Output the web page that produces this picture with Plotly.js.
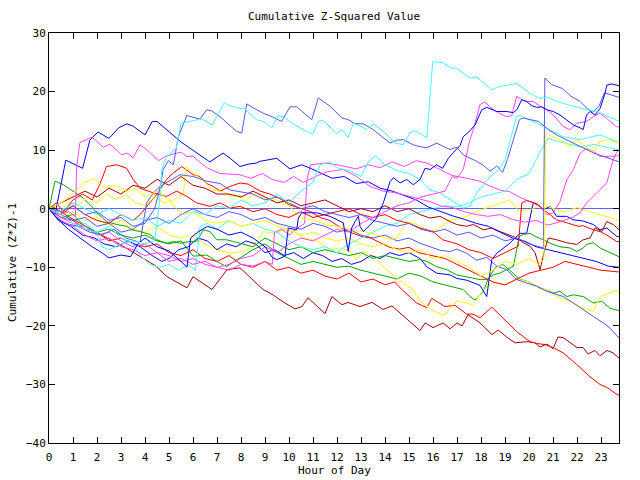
<!DOCTYPE html>
<html><head><meta charset="utf-8">
<script src="https://cdn.plot.ly/plotly-3.0.1.min.js"></script>
<style>html,body{margin:0;padding:0;background:#fff}#chart{width:640px;height:480px}</style>
</head><body><div id="chart"></div>
<script>
// ---- data: [hour, cumulative value] ----
const hourTicks = [0,1,2,3,4,5,6,7,8,9,10,11,12,13,14,15,16,17,18,19,20,21,22,23];

const cyan1 = [[0,0],[0.5,-1],[1,-2.5],[1.5,-3.5],[2,-4],[2.2,-6.5],[2.5,-7],[3,-6],[3.5,-5.5],[4,-6],[4.4,-5.5],[4.5,-2],[4.6,1],[4.7,6.7],[4.9,8.9],[5.3,10.3],[5.5,14.6],[6.2,15.2],[6.4,15.3],[6.8,14.3],[7.3,18.1],[7.6,17.5],[8.0,17.1],[8.1,17.2],[8.65,15.2],[8.93,14.9],[9.28,13.8],[9.55,15.9],[9.76,15.7],[10.04,14.9],[10.46,13.8],[10.88,12.9],[11.01,12.9],[11.22,14.9],[11.43,15.1],[11.99,12.8],[12.2,13.5],[12.47,12.2],[12.68,14.6],[13.03,14.0],[13.24,13.5],[13.51,14.5],[13.93,13.2],[14.42,11.2],[14.76,10.9],[15.04,13.0],[15.25,13.3],[15.74,12.1],[15.99,25.1],[16.42,24.9],[16.78,24.0],[16.99,24],[17.54,22.3],[17.82,22.5],[18.45,20.3],[18.71,20.8],[19.49,21.4],[20.04,19.7],[20.46,18.8],[20.74,19.1],[21.15,18.3],[21.57,17.8],[22.4,16.9],[22.82,16.6],[23.24,15.8],[23.65,15.1],[23.75,15]];
const cyan2 = [[0,0],[0.5,-0.5],[1,1],[1.5,0],[2,-1],[2.5,0],[3,-1],[3.5,-2],[4,-1.5],[4.5,-3],[5,-2],[5.5,-2.5],[6,-0.5],[6.5,-1],[7,0.5],[7.5,0],[8,1.5],[8.5,0.5],[9,1],[9.5,2.5],[10,1],[10.5,3],[11,4.5],[11.3,7.5],[11.7,8],[12,7],[12.5,6.5],[13,5.5],[13.3,8],[13.6,9],[14,7.5],[14.5,6.5],[15,6],[15.46,5],[15.67,4.1],[15.88,3.2],[16.29,2.7],[16.64,1.8],[16.99,0.9],[17.26,0.1],[17.54,0.4],[17.82,2.7],[18.1,4.1],[18.38,5.5],[18.66,6.4],[18.87,7.5],[19,8.4],[19.49,15.8],[19.63,15.9],[20.46,14.3],[20.74,13.8],[21.43,12.3],[22.13,11.8],[22.96,12.6],[23.65,11.5],[23.75,11.5]];
const cyan3 = [[0,0],[0.5,-2],[1,-3],[1.5,-2.5],[2,-4],[2.5,-3],[3,-5],[3.5,-6],[3.8,-8],[4.2,-9.5],[4.6,-10],[5,-9.5],[5.4,-10.5],[5.8,-9.5],[6.1,-10.5],[6.3,-3],[6.6,-2.5],[7,-3.5],[7.5,-2],[8,-3],[8.5,-2.5],[9,-3.5],[9.5,-4],[10,-5.5],[10.5,-6.5],[11,-7],[11.5,-6.5],[12,-7.5],[12.5,-6],[13,-5],[13.5,-4],[14,-3],[14.5,-2.5],[15,-1],[15.5,-0.5],[16,0],[16.5,0.5],[17,0.3],[17.5,1],[18,2],[18.5,2.5],[19,3],[19.5,5],[20,6],[20.5,10],[20.8,12],[21.2,11.5],[21.7,11],[22.2,10.5],[22.7,11],[23.2,10.5],[23.75,10]];
const slate1 = [[0,0],[0.5,-0.5],[1,0.5],[1.5,-1],[2,-0.5],[2.5,-2],[3,-1.5],[3.5,-3],[4,-2.5],[4.4,0],[4.6,3],[4.76,6.7],[4.97,8.2],[5.18,7.5],[5.39,12.3],[5.74,15.9],[6.29,15.3],[6.57,16.9],[6.78,16.7],[7.13,15.7],[7.54,14.2],[7.82,13.2],[8.03,12.9],[8.24,17.9],[8.51,17.2],[8.93,16.3],[9.35,15.6],[9.69,14.9],[10.04,17.4],[10.32,17.4],[10.95,15.2],[11.22,18.9],[11.71,17.5],[12.2,15.5],[12.47,15.2],[12.75,14.5],[13.1,14.5],[13.51,13.5],[14.21,11.2],[14.49,11.7],[14.76,11.8],[15.18,10.9],[15.46,10.6],[15.74,10.4],[16.15,11.2],[16.57,10.4],[16.71,10.1],[16.99,10.5],[17.26,9.2],[17.82,8.1],[18.1,7.4],[18.38,6.4],[18.66,7.3],[18.9,6.2],[19.1,8.4],[19.6,15.2],[19.75,15.5],[20.4,14.9],[20.8,13.5],[21.2,12.5],[21.7,11.5],[22.2,10.5],[22.7,9.5],[23.2,8.8],[23.75,8]];
const slate2 = [[0,0],[0.3,-1.5],[0.7,-2.5],[1.2,-3],[1.7,-4],[2.2,-4.5],[2.7,-3.5],[3.2,-5],[3.6,-5.5],[3.79,-5.8],[4.07,1],[4.35,2.7],[4.63,3.8],[5.46,5.8],[6.01,5.5],[6.57,4.7],[7.13,4.3],[7.54,3.2],[7.96,2.9],[8.5,2.5],[9,1.5],[9.5,2],[10,1],[10.5,0],[11,0.5],[11.5,-0.5],[12,-1],[12.5,-1.5],[13,-1],[13.5,-2],[14,-2.5],[14.5,-3],[15,-2.5],[15.5,-3.5],[16,-4],[16.5,-3.5],[17,-4.5],[17.5,-4],[18,-5],[18.5,-4.5],[19,-5.5],[19.5,-5],[20,-6],[20.5,-6.5],[20.6,-6.7],[20.66,22.3],[20.94,21.2],[21.4,20.5],[21.75,19.2],[22.1,18.4],[22.45,17],[22.65,16.5],[22.92,17.5],[23.14,19.8],[23.55,19.2],[23.75,19]];
const slate3 = [[0,0],[0.5,-1],[1,-2],[1.5,-1.5],[2,-3],[2.5,-2.5],[3,-4],[3.5,-3.5],[4,-2],[4.5,-1.5],[5,-2.5],[5.5,-1],[6,0],[6.5,-1],[7,-1.5],[7.5,-0.5],[8,-1],[8.5,-2],[9,-1.5],[9.5,-2.5],[10,-3],[10.5,-3.5],[11,-2.5],[11.5,-3],[12,-4],[12.5,-3.5],[13,-4.5],[13.5,-5],[14,-4.5],[14.5,-5.5],[15,-5],[15.46,-5.9],[15.88,-6.5],[16.29,-7.1],[16.71,-7.3],[16.99,-6.9],[17.4,-7.6],[17.82,-8.8],[18.24,-8.3],[18.66,-9.8],[19.07,-10.4],[19.49,-12.1],[19.9,-12.7],[20.32,-13.2],[20.74,-14.1],[21.01,-14.4],[21.43,-15],[21.85,-16.1],[22.26,-17.3],[22.68,-18.4],[23.1,-19.5],[23.38,-20.4],[23.75,-22.1]];
const blue1 = [[0,0],[0.25,-1],[0.7,8.3],[1.2,7.2],[1.4,6.9],[1.7,11.7],[2.04,13.1],[2.5,12],[2.9,13.8],[3.25,14.5],[3.5,14.1],[4,12.6],[4.3,14.9],[4.5,14.9],[5.5,11.4],[6.7,8],[7.25,9.5],[7.55,8.6],[7.96,7.2],[8.3,7.6],[8.65,7.8],[8.79,8.1],[9.49,8.6],[10.04,6.8],[10.53,7.5],[10.95,6.8],[11.4,6],[11.8,5.2],[12.3,5.5],[12.8,4.3],[13.3,4.6],[13.8,3.5],[14.3,3],[14.8,2.2],[15.3,1.5],[15.8,0.3],[16.3,-0.5],[16.8,-1.2],[17.3,-1.8],[17.8,-2.5],[18.3,-3],[18.8,-4],[19.3,-5],[19.8,-5.5],[20.3,-6.5],[20.8,-7],[21.3,-7.5],[21.8,-8],[22.3,-8.5],[22.8,-9],[23.3,-9.8],[23.75,-10]];
const blue2 = [[0,0],[0.3,-1.5],[0.8,-3.5],[1.3,-5],[1.8,-6.5],[2.2,-7.5],[2.5,-8.4],[3,-7.9],[3.4,-8.2],[3.7,-6],[4,-5],[4.5,-6.5],[5,-7.2],[5.5,-9],[5.75,-10],[5.9,-5],[6.2,-4],[6.6,-3],[7,-3.5],[7.5,-4.5],[8,-4],[8.5,-5],[9,-6.5],[9.3,-8.3],[9.49,-8.7],[9.83,-8.1],[9.97,-3.3],[10.32,-3.6],[10.39,-1.6],[10.53,-0.7],[10.74,-0.7],[11.15,-0.7],[11.71,-1.3],[12.26,-2.4],[12.47,-7.3],[12.61,-3.3],[12.75,-2.2],[12.89,-1.3],[12.96,-3],[13.1,-3.9],[13.38,-2.8],[13.65,-1.6],[13.93,1],[14.21,4.6],[14.35,5.3],[14.63,4.4],[14.9,5],[15.18,4.1],[15.46,5],[15.67,6.9],[15.88,6.7],[16.15,7.5],[16.4,6.9],[16.64,8.6],[16.85,9.6],[17.13,10.8],[17.26,12.3],[17.54,13.3],[17.75,14.3],[17.89,15.7],[18.03,16.9],[18.24,17.3],[18.45,16.9],[18.66,16.6],[19.07,16.6],[19.35,16.4],[19.49,16.9],[19.7,18.6],[19.9,18.3],[20.11,17.6],[20.32,17.3],[20.53,17.4],[20.74,16.9],[21.01,16.6],[21.29,16.0],[21.57,15.2],[21.85,14.3],[22.13,13.8],[22.26,13.5],[22.4,16.0],[22.54,16.6],[22.75,16.0],[22.96,17.1],[23.17,19.7],[23.24,21.1],[23.45,21.3],[23.65,21.1],[23.75,21]];
const blue3 = [[0,0],[0.4,-2],[0.9,-3],[1.4,-4.5],[1.9,-5],[2.3,-6],[2.8,-6.5],[3.3,-5.5],[3.8,-6.5],[4.3,-8],[4.7,-9],[5,-8.5],[5.4,-7],[5.8,-6.5],[6.2,-5],[6.6,-5.5],[7,-7],[7.4,-6],[7.8,-6.5],[8.2,-5.5],[8.6,-6],[9,-7.5],[9.4,-7],[9.8,-8],[10.2,-7.5],[10.6,-8.5],[11,-7.5],[11.4,-8],[11.8,-9],[12.2,-8.5],[12.6,-9.5],[13,-9],[13.4,-8],[13.8,-8.5],[14.2,-7.5],[14.6,-8],[15,-7.5],[15.46,-8.5],[15.74,-9.9],[16.15,-11],[16.71,-11.3],[16.99,-11.9],[17.4,-12.2],[17.96,-13.1],[18.24,-15],[18.45,-8.7],[18.66,-7.6],[19.2,-5.9],[19.42,-5],[19.63,-4.2],[19.9,-4.2],[20.18,1],[20.39,0.7],[20.6,-0.2],[20.88,0.4],[21.15,-1.3],[21.57,-1.3],[21.85,-1.9],[22.26,-2.1],[22.68,-2.7],[22.96,-3.6],[23.24,-3.3],[23.65,-4.7],[23.75,-4.8]];
const magenta1 = [[0,0],[0.4,-1],[0.8,-0.5],[1.1,-1.2],[1.15,7.2],[1.29,11.3],[1.78,12.2],[1.92,11.8],[2.26,10.5],[2.54,11.0],[3.03,9.2],[3.26,9.5],[3.51,8.7],[3.79,10.9],[4.07,10.1],[4.56,8.2],[4.83,8.9],[5.32,9.5],[5.53,9.6],[5.74,8.9],[6.01,9.0],[6.15,8.4],[6.57,7.0],[7.13,6.0],[7.96,5.8],[8.4,5.2],[8.9,6],[9.3,5],[9.8,4.5],[10.2,5.5],[10.6,4.5],[11.1,5.5],[11.6,6.3],[12.25,6.7],[12.82,5.5],[13.1,4.7],[13.38,3.8],[13.93,3],[14.49,2.7],[15.04,2.1],[15.6,1.5],[15.88,1.2],[16.3,0.5],[16.8,0.2],[17.3,-0.5],[17.8,-1],[18.3,-1.3],[18.8,-1],[19.3,-1.8],[19.8,-2.3],[20.3,-2],[20.8,-2.8],[21.3,-2.2],[21.8,-1.5],[22.13,-0.7],[22.4,1],[22.82,2.7],[23.24,4.4],[23.51,8.4],[23.65,9.6],[23.75,10]];
const magenta2 = [[0,0],[0.5,-1.5],[1,-2.5],[1.5,-3],[2,-4.5],[2.5,-4],[3,-5.5],[3.5,-6.5],[4,-6],[4.5,-7.5],[5,-8],[5.5,-9],[6,-8.5],[6.5,-9.5],[7,-10],[7.5,-10.5],[8,-9.5],[8.5,-9.8],[9,-9],[9.3,-9.5],[9.4,-4],[9.7,-3.5],[10,-4.5],[10.3,-3.5],[10.65,-2.5],[10.75,5],[10.9,7.5],[11.5,7.8],[12,7.5],[12.5,7],[12.8,6.8],[13.3,7.5],[13.8,7],[14.3,8],[14.8,7.2],[15.3,8.2],[15.74,7.8],[16.29,6.7],[16.78,5.7],[17.4,5.2],[17.96,4.7],[18.24,4.1],[18.79,3.2],[19.2,2.9],[19.6,2],[20.04,1.2],[20.46,0.4],[20.74,-1],[21.01,-0.7],[21.29,1.2],[21.57,4.9],[21.85,6.7],[22.13,9.5],[22.4,10.3],[22.68,9.8],[22.96,8.9],[23.65,9],[23.75,9.2]];
const magenta3 = [[0,0],[0.5,-2],[1,-3],[1.5,-4.5],[2,-5.5],[2.5,-5],[3,-6.5],[3.5,-7],[4,-8],[4.5,-7.5],[5,-9],[5.5,-8.5],[6,-9.5],[6.5,-9],[7,-10],[7.5,-9.5],[8,-8.5],[8.5,-8],[9,-6.5],[9.5,-7.5],[10,-6],[10.5,-5],[11,-5.5],[11.5,-4.5],[12,-3.5],[12.5,-4],[13,-2.5],[13.5,-1.5],[14,-0.5],[14.5,0.5],[15,1],[15.5,2],[16,2.5],[16.5,3],[16.8,5.5],[17,5.2],[17.26,6.7],[17.54,11.8],[17.68,13.5],[17.96,17.8],[18.17,18.2],[18.45,17.1],[18.72,16.4],[19.07,15.7],[19.28,15.9],[19.49,19.2],[19.7,18.6],[19.9,18.3],[20.18,18.3],[20.46,17.5],[20.74,16.9],[21.01,16.0],[21.43,14.0],[21.71,13.5],[21.99,14.6],[22.4,14.9],[22.68,15.7],[22.96,16.3],[23.24,15.4],[23.65,14.0],[23.75,14]];
const yellow1 = [[0,0],[0.5,1],[1,2.5],[1.5,4.5],[1.9,5.2],[2.3,3.5],[2.8,4],[3.2,3],[3.6,3.5],[4,2],[4.5,3],[5,1.5],[5.3,0],[5.6,-1],[6,-0.5],[6.5,-2],[7,-2.5],[7.5,-2],[8,-3],[8.5,-2.5],[9,-2],[9.5,-3],[10,-3.5],[10.5,-4.5],[11,-4],[11.5,-5],[12,-5.5],[12.5,-5],[13,-6],[13.5,-6.5],[14,-6],[14.5,-7],[15,-7.5],[15.5,-7],[16,-8.5],[16.5,-8],[17,-9],[17.5,-10],[18,-11.5],[18.5,-10.5],[19,-9],[19.5,-9.5],[20,-8.5],[20.4,-9.5],[20.62,-8.7],[20.71,12.8],[21.01,12.3],[21.43,11.5],[21.71,10.6],[21.99,11.8],[22.33,10.6],[22.68,9.7],[22.96,11.5],[23.38,11.8],[23.65,11.2],[23.75,11]];
const yellow2 = [[0,0],[0.4,-1],[0.8,1],[1.2,0.5],[1.6,2],[2,1],[2.4,2.5],[2.8,1.5],[3.2,2.5],[3.6,1],[4,0.5],[4.4,2],[4.8,1],[5.2,1.5],[5.6,2.5],[5.7,7.2],[5.74,7],[6.0,6.1],[6.4,4.9],[6.8,3.2],[7.25,2.9],[7.67,2],[7.96,2.4],[8.1,1.2],[8.65,2.7],[9.07,1.5],[9.49,1.5],[10.04,0.4],[10.46,-1.6],[11.01,-1.9],[11.57,-2.8],[11.99,-3],[12.54,-3.6],[13.1,-3.9],[13.65,-4.4],[14.21,-5.3],[14.49,-5],[14.9,-2.2],[15.32,-2.7],[15.88,-3.9],[16.2,-3.5],[16.7,-2],[17.3,-1.5],[17.8,-0.5],[18.5,0.5],[19.2,1.5],[19.6,-0.5],[20.2,0],[20.5,1],[21,0],[21.5,-0.5],[22,0.2],[22.5,-0.5],[23,-1],[23.4,-1.5],[23.75,-2]];
const yellow3 = [[0,0],[0.5,-1],[1,-0.5],[1.5,-2],[2,-1.5],[2.5,-3],[3,-2],[3.5,-3.5],[4,-4],[4.5,-3],[5,-4.5],[5.5,-5],[6,-4.5],[6.5,-6],[7,-7],[7.54,-7.6],[8.1,-7.3],[8.51,-6.4],[8.93,-3.9],[9.35,-4.2],[9.76,-3.6],[10.18,-3.9],[10.6,-5],[11.01,-5.3],[11.43,-6.1],[11.71,-7],[12.12,-6.7],[12.54,-7.3],[12.82,-8.7],[13.1,-7.3],[13.51,-8.1],[13.93,-9.9],[14.35,-11.3],[14.76,-12.7],[15.18,-13.8],[15.46,-15.8],[15.88,-17.0],[16.43,-18.3],[16.85,-16.4],[16.99,-15.8],[17.68,-16.4],[17.89,-15.0],[18.1,-13.9],[18.5,-12.5],[19,-13],[19.5,-12],[20,-12.5],[20.4,-13.5],[20.74,-13.9],[21.15,-15],[21.85,-16.1],[22.26,-17],[22.68,-17.5],[22.96,-15],[23.38,-14.4],[23.65,-13.9],[23.75,-14.4]];
const red1 = [[0,0],[0.5,-1.5],[1,-2],[1.5,-3.5],[2,-4],[2.5,-5.5],[3,-5],[3.5,-6],[4,-6.5],[4.5,-6],[5,-7.5],[5.5,-8],[6,-7],[6.5,-8.5],[7,-9],[7.5,-8],[8,-9.5],[8.5,-10],[9,-9],[9.5,-10.5],[10,-10],[10.5,-11],[11,-10.5],[11.5,-11.5],[12,-12],[12.5,-11],[13,-12.5],[13.5,-12],[14,-13],[14.4,-12.5],[14.7,-13.8],[15.32,-16.1],[15.74,-16.9],[15.95,-15.3],[16.5,-16.7],[16.92,-16.5],[17.4,-18],[17.67,-18],[17.96,-18.6],[18.45,-16.8],[19.49,-21],[20.04,-22.7],[20.32,-23],[20.67,-23.2],[21,-23.7],[21.42,-24.6],[21.99,-26.6],[22.54,-28.7],[22.96,-30],[23.24,-30.5],[23.7,-31.8],[23.75,-31.8]];
const red2 = [[0,0],[0.3,1],[0.6,-0.5],[1,1.5],[1.4,2.5],[1.8,1.5],[2.1,4],[2.4,7.2],[2.82,7.5],[3.24,6.9],[3.51,5],[3.79,3.5],[4.35,2.7],[4.9,2.1],[5.32,3],[5.74,2.1],[6.15,1],[6.71,0.4],[7.13,1],[7.54,0.1],[7.96,0.4],[8.5,-0.5],[9,0],[9.5,-1],[10,-1.5],[10.5,-0.5],[11,-1.5],[11.5,-1],[12,-0.5],[12.5,0],[13,-1],[13.5,-1.5],[14,-1],[14.5,-2],[15,-2.5],[15.46,-3.3],[16,-3.9],[16.4,-5.3],[17,-6],[17.5,-7],[18,-7.5],[18.5,-8.5],[19,-7.5],[19.55,-6.4],[19.7,1],[19.9,1.4],[20.25,1],[20.53,0.1],[20.74,-0.7],[21.15,-1.9],[21.57,-2.4],[21.85,-2.7],[22.05,-3],[22.26,-2.9],[22.68,-3.6],[22.96,-3.9],[23.24,-4.5],[23.65,-5.6],[23.75,-5.6]];
const red3 = [[0,0],[0.5,-1],[1,0.5],[1.5,-1],[2,-2],[2.5,-2.5],[3,-1],[3.5,-2],[3.8,-1],[4.2,1],[4.5,2.5],[4.9,5],[5.18,6.1],[5.53,7.2],[5.74,6.6],[6.01,5.8],[6.29,5.5],[6.57,4.3],[6.85,3.8],[7.13,3],[7.54,3.8],[7.96,4.4],[8.3,4.2],[8.8,3],[9.2,2.5],[9.6,1.8],[10,0.7],[10.5,0.1],[10.9,-0.5],[11.3,-1.5],[11.7,-2],[12.1,-3.1],[12.6,-4.1],[13,-4.7],[13.4,-5],[13.8,-5.8],[14.2,-6.6],[14.6,-6.9],[15,-6.6],[15.4,-7.5],[15.9,-8],[16.5,-8.5],[17,-9.5],[17.5,-10.5],[18,-11.5],[18.5,-12.5],[19,-13],[19.5,-12],[20,-11],[20.5,-10.5],[21,-10],[21.5,-9],[22,-9.5],[22.5,-10],[23,-10.5],[23.75,-10.8]];
const darkred1 = [[0,0],[0.17,0.3],[0.88,-1.5],[2.13,-4.4],[2.96,-6.1],[3.79,-8.2],[4.42,-9.7],[4.92,-11.6],[5.75,-13.5],[6,-11.6],[6.79,-13.8],[7.42,-10.4],[7.96,-10.1],[8.92,-13.8],[9.33,-14.7],[9.75,-15.9],[10.25,-17.1],[10.54,-16.7],[10.79,-15.2],[11.5,-17.9],[11.79,-15],[12.21,-16.4],[12.46,-16],[12.96,-16.7],[13.46,-16],[13.92,-17.2],[14.29,-16.6],[15.04,-19.3],[15.46,-20.8],[15.67,-19.5],[16,-20.3],[16.42,-19.5],[16.71,-20.5],[17,-19.5],[17.21,-20],[17.46,-18.1],[17.96,-19.5],[18.46,-21.5],[18.71,-20.7],[19.13,-22.1],[19.42,-22.9],[19.92,-22.7],[20.25,-22.9],[20.46,-23.6],[20.75,-23.1],[21,-23.9],[21.21,-21.9],[21.42,-22],[22,-23.7],[22.25,-23.7],[22.46,-24.8],[22.75,-24.2],[22.96,-25.1],[23.25,-24.2],[23.5,-24.6],[23.75,-25.5]];
const darkred2 = [[0,0],[0.5,1],[1,2],[1.5,3],[2,2],[2.5,3.5],[3,2.5],[3.5,4],[4,3.5],[4.5,5],[5,4],[5.5,5.5],[6,4],[6.5,3.5],[7,2.5],[7.5,2.5],[8,2],[8.5,3],[9,2],[9.5,1],[10,1.5],[10.5,0.5],[11,1],[11.5,1.5],[12,0.5],[12.5,-0.5],[13,0],[13.5,-0.5],[14,0.5],[14.5,-0.5],[15,0],[15.46,-1],[15.88,-1.6],[16.29,-1.3],[16.71,-2.2],[16.99,-2.7],[17.4,-3],[17.68,-2.7],[18.1,-3.6],[18.45,-3.3],[18.79,-3.9],[19.14,-4.4],[19.49,-5],[19.76,-5.8],[20.04,-6.4],[20.25,-7.5],[20.46,-10.4],[20.67,-6.7],[20.81,-5],[21.15,-5.3],[21.57,-5.8],[21.99,-6.1],[22.26,-5.3],[22.54,-5],[22.75,-3.3],[23.03,-3.9],[23.24,-2.2],[23.51,-2.7],[23.75,-3.6]];
const green1 = [[0,0],[0.25,4.7],[0.6,4.1],[1.01,3.0],[1.43,1.8],[1.78,0.4],[1.99,-0.7],[2.4,-2.2],[2.82,-2.7],[3.24,-3.0],[3.45,-3.6],[3.79,-3.9],[4.21,-4.4],[4.49,-5.3],[4.9,-5.9],[5.18,-5.6],[5.46,-5.9],[5.88,-5.6],[6.15,-5.6],[6.43,-3.6],[6.71,-3.9],[6.99,-5.3],[7.4,-5.3],[7.68,-5.6],[8,-6],[8.5,-6.5],[9,-5],[9.5,-6],[10,-7],[10.5,-6.5],[11,-7.5],[11.5,-7],[12,-7.5],[12.5,-8],[13,-7.5],[13.5,-8.5],[14,-8],[14.5,-8.5],[15,-9],[15.46,-8.7],[15.74,-9],[16.15,-9.9],[16.57,-10.4],[16.99,-11.3],[17.4,-11.6],[17.68,-11.8],[17.96,-12.1],[18.24,-12.1],[18.51,-11.3],[18.79,-11],[19.07,-10.4],[19.35,-9.8],[19.6,-4.7],[19.76,-4.4],[20.04,-4.2],[20.25,-4.7],[20.6,-5.3],[20.88,-5.9],[21.29,-6.5],[21.71,-6.7],[21.99,-7.3],[22.26,-6.7],[22.4,-6.1],[22.68,-5.8],[22.96,-6.7],[23.38,-7.5],[23.75,-8.2]];
const green2 = [[0,0],[0.5,-1.5],[1,-1],[1.5,-3],[2,-4],[2.5,-3.5],[3,-4.5],[3.5,-5],[4,-4.5],[4.5,-5.5],[5,-6],[5.5,-5.5],[6.01,-8.1],[6.57,-7.9],[6.99,-9],[7.4,-9.9],[7.82,-8.7],[7.96,-8.4],[8.5,-7],[9,-6],[9.5,-7.5],[10,-8.5],[10.5,-9.5],[11,-9],[11.5,-9.5],[12,-10],[12.5,-9.8],[13,-10.5],[13.5,-11],[14,-11.5],[14.5,-12],[15,-11],[15.5,-11.5],[16,-12.5],[16.5,-13],[17,-13.5],[17.26,-13.8],[17.54,-15],[17.75,-15.6],[17.96,-14.7],[18.1,-14.1],[18.3,-12],[18.6,-10],[18.9,-9.5],[19.2,-10.5],[19.6,-12],[20,-12.5],[20.4,-13.5],[20.74,-13.9],[21.01,-14.4],[21.29,-14.1],[21.57,-15],[21.85,-14.7],[22.26,-15],[22.68,-16.1],[23.03,-15.8],[23.38,-17],[23.75,-17.4]];

// ---- styles ----
const RED='#ff0000', DARKRED='#a80000', GREEN='#00a800', BLUE='#0000ff', SLATE='#5555ff', CYAN='#40ffff', MAGENTA='#ff44ff', YELLOW='#ffff00';
const series = [
  [darkred1, DARKRED],[red1, RED],[green2, GREEN],[yellow3, YELLOW],[slate3, SLATE],
  [blue3, BLUE],[green1, GREEN],[red3, RED],[magenta2, MAGENTA],[cyan3, CYAN],
  [yellow2, YELLOW],[darkred2, DARKRED],[red2, RED],[blue1, BLUE],[slate2, SLATE],
  [magenta1, MAGENTA],[yellow1, YELLOW],[cyan2, CYAN],[magenta3, MAGENTA],[slate1, SLATE],
  [blue2, BLUE],[cyan1, CYAN]
];
const traces = series.map(([pts, color]) => ({
  type: 'scatter', mode: 'lines',
  x: pts.map(p => p[0]), y: pts.map(p => p[1]),
  line: {color, width: 1}, hoverinfo: 'skip', showlegend: false
}));

const FONT = {family: 'DejaVu Sans Mono, monospace', size: 11, color: '#000'};
const axisCommon = {
  showline: true, linecolor: '#000', linewidth: 1, mirror: 'ticks',
  ticks: 'inside', ticklen: 6, tickcolor: '#000', tickwidth: 1,
  showgrid: false, tickfont: FONT, fixedrange: true
};
const layout = {
  width: 640, height: 480,
  margin: {l: 49, r: 21, t: 33, b: 37, pad: 0},
  paper_bgcolor: '#fff', plot_bgcolor: '#fff',
  font: FONT,
  title: {text: 'Cumulative Z-Squared Value', font: FONT, xref: 'paper', x: 0.5, xanchor: 'center', yref: 'container', y: 1 - 16/480, yanchor: 'middle'},
  xaxis: Object.assign({}, axisCommon, {range: [0, 23.75], tickmode: 'array', tickvals: hourTicks, ticktext: hourTicks.map(String), zeroline: false, ticklabelstandoff: 4}),
  yaxis: Object.assign({}, axisCommon, {range: [-40, 30], tick0: -40, dtick: 10, zeroline: true, zerolinecolor: '#6060ff', zerolinewidth: 1}),
  annotations: [
    {text: 'Hour of Day', xref: 'paper', yref: 'paper', x: 0.5, y: -(470-443)/410, xanchor: 'center', yanchor: 'middle', showarrow: false, font: FONT},
    {text: 'Cumulative (Z*Z)-1', xref: 'paper', yref: 'paper', x: -(49-12)/570, y: (443-263)/410, xanchor: 'center', yanchor: 'middle', textangle: -90, showarrow: false, font: FONT}
  ]
};
Plotly.newPlot('chart', traces, layout, {staticPlot: true, displayModeBar: false});
</script>
</body></html>
